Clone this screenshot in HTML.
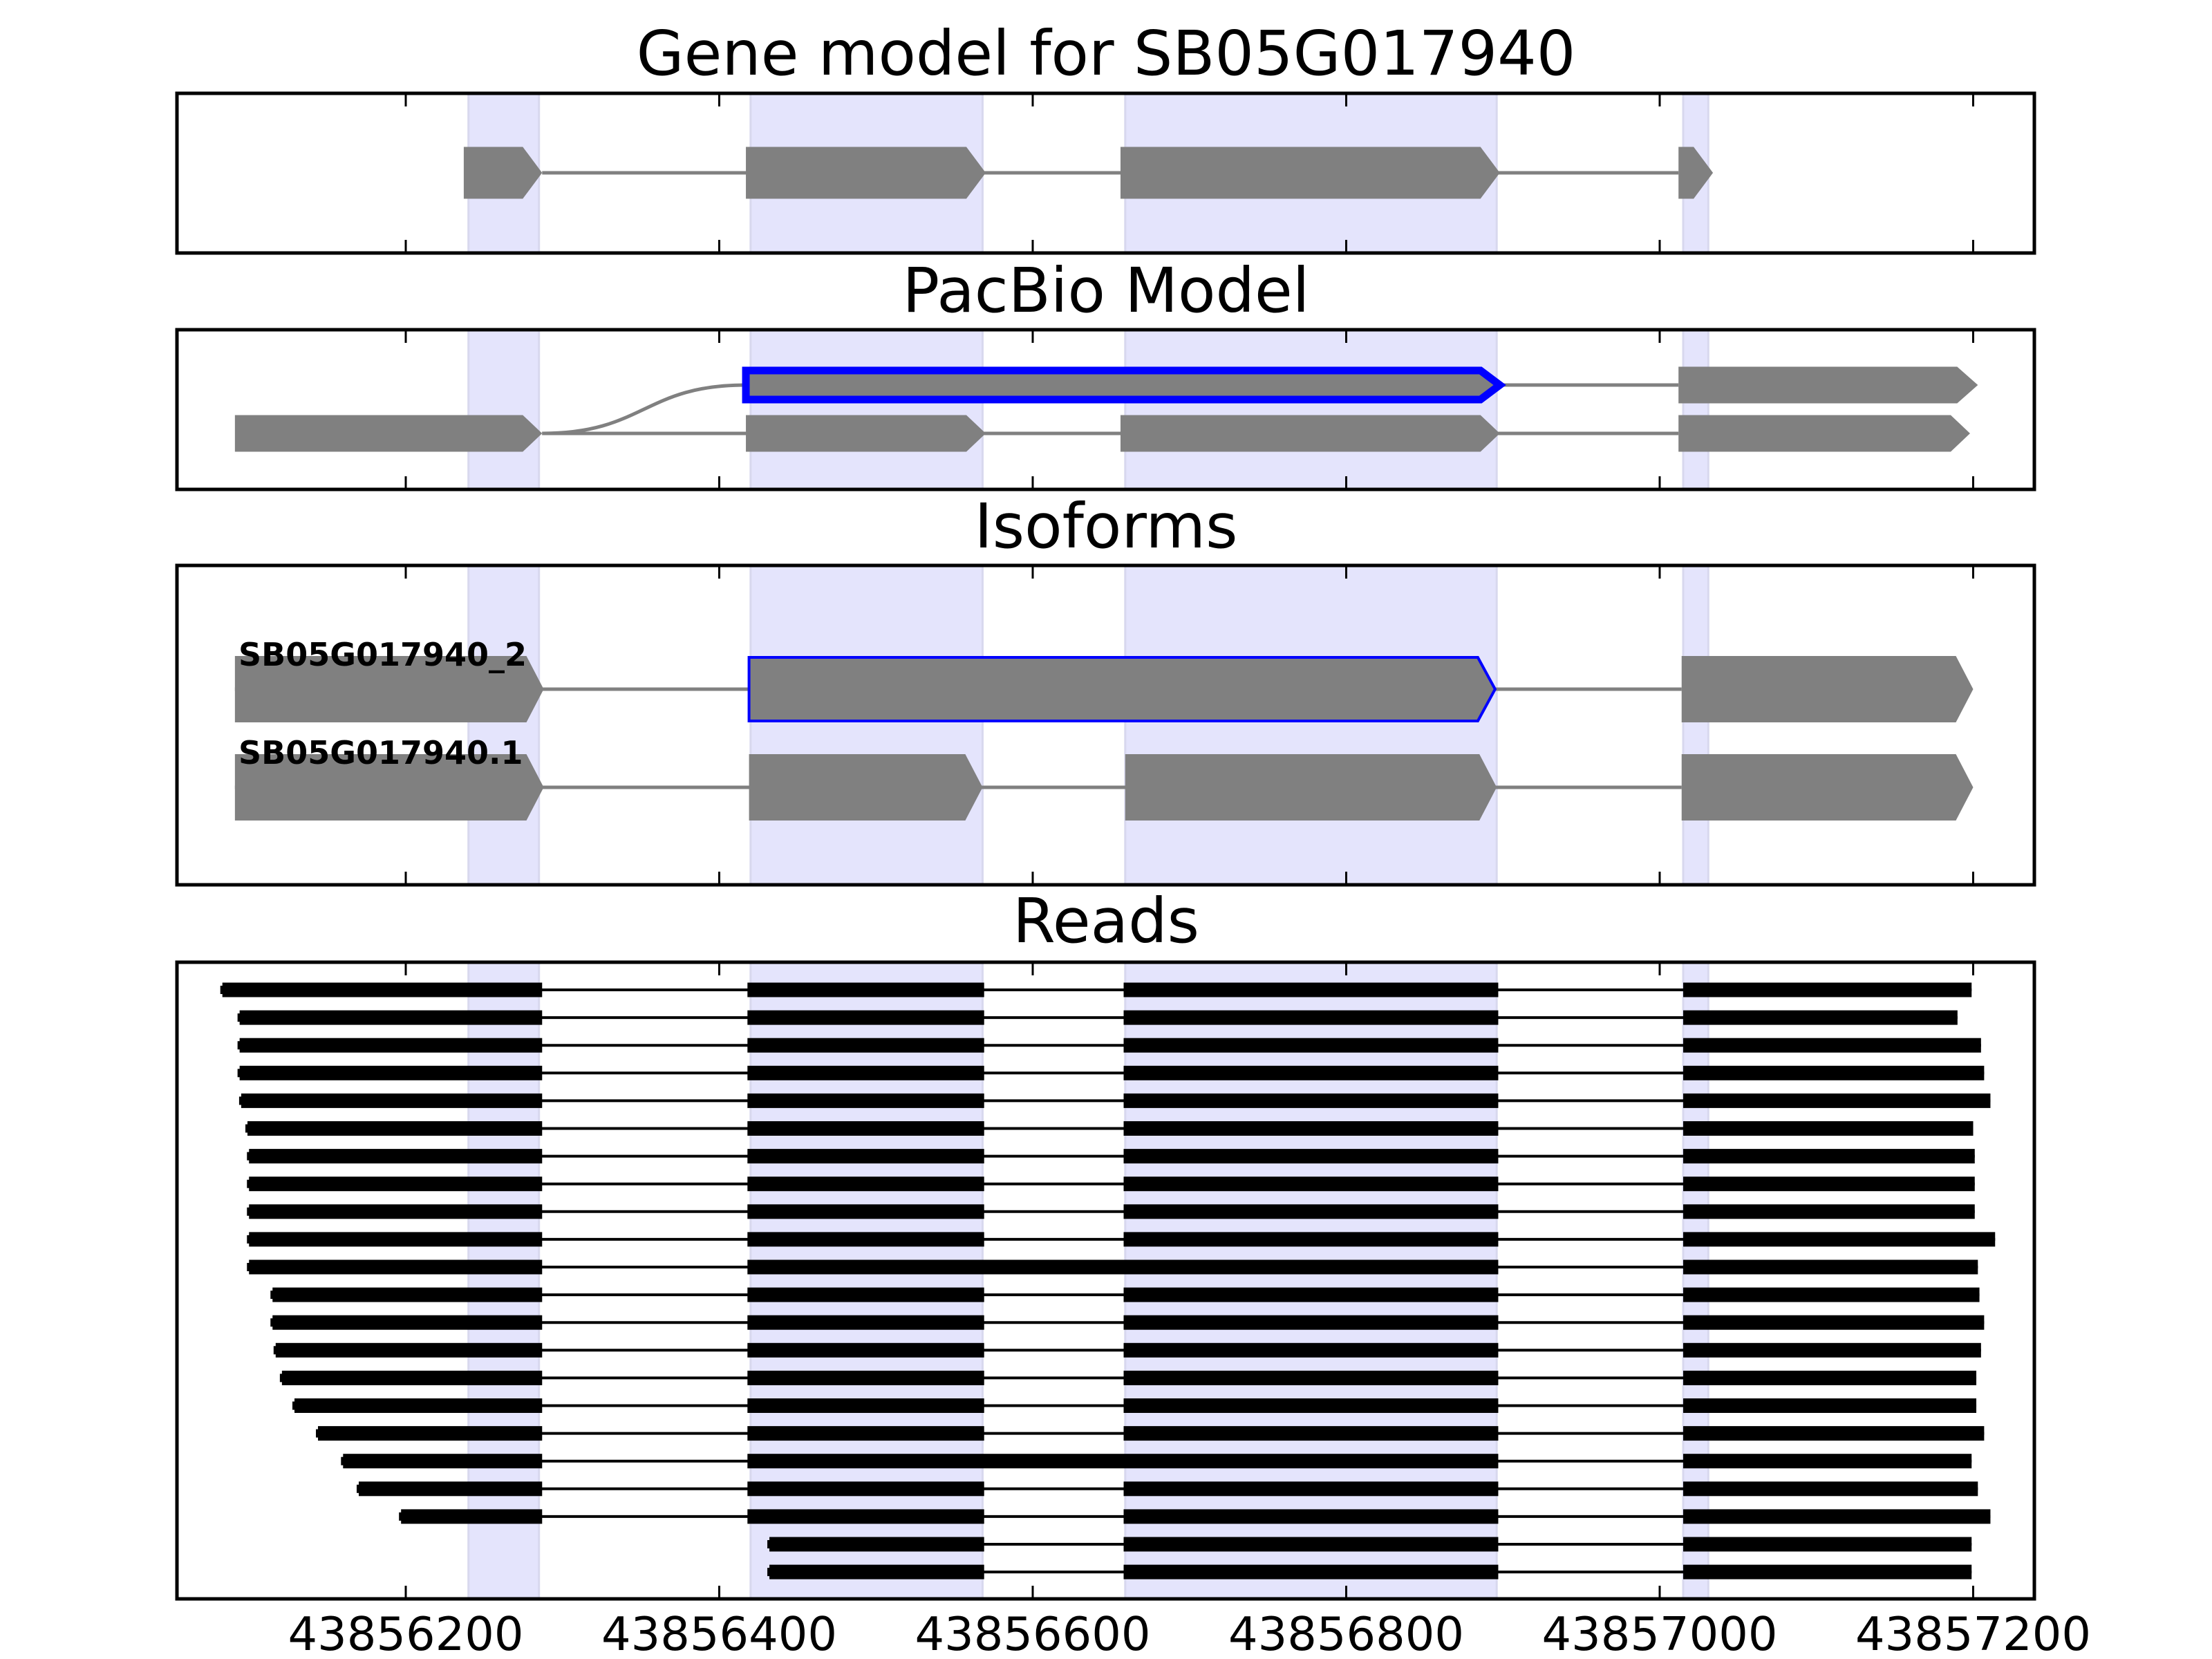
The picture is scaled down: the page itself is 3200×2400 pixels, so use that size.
<!DOCTYPE html>
<html><head><meta charset="utf-8"><style>html,body{margin:0;padding:0;background:#fff}svg{display:block}text{font-family:"DejaVu Sans","Liberation Sans",sans-serif}</style></head>
<body>
<svg id="fig" width="3200" height="2400" viewBox="0 0 3200 2400" xmlns="http://www.w3.org/2000/svg"></svg>
<script>
// ---- data ----
const ticks = [43856200, 43856400, 43856600, 43856800, 43857000, 43857200];
const tickLabels = ["43856200","43856400","43856600","43856800","43857000","43857200"];
const shadeStarts = [43856240, 43856420, 43856659, 43857015];
const shadeEnds = [43856285, 43856568, 43856896, 43857031];
// gene model exons
const geneStarts = [43856237, 43856417, 43856656, 43857012];
const geneEnds = [43856287, 43856570, 43856898, 43857034];
// PacBio rows
const pb1Starts = [43856417, 43857012];
const pb1Ends = [43856898, 43857203];
const pb2Starts = [43856091, 43856417, 43856656, 43857012];
const pb2Ends = [43856287, 43856570, 43856898, 43857198];
// isoforms
const iso1Starts = [43856091, 43856419, 43857014];
const iso1Ends = [43856288, 43856895, 43857200];
const iso2Starts = [43856091, 43856419, 43856659, 43857014];
const iso2Ends = [43856288, 43856568, 43856896, 43857200];
const isoNames = ["SB05G017940_2", "SB05G017940.1"];
// reads
const readStarts = [43856083,43856094,43856094,43856094,43856095,43856099,43856100,43856100,43856100,43856100,43856100,43856115,43856115,43856117,43856121,43856129,43856144,43856160,43856170,43856197,43856432,43856432];
const readEnds = [43857199,43857190,43857205,43857207,43857211,43857200,43857201,43857201,43857201,43857214,43857203,43857204,43857207,43857205,43857202,43857202,43857207,43857199,43857203,43857211,43857199,43857199];
const retainedIntron = [false,false,false,false,false,false,false,false,false,false,true,false,false,false,false,false,false,true,false,false,false,false];
const readExonStarts = [43856418, 43856658, 43857015];
const readExonEnds = [43856287, 43856569, 43856897];

// ---- layout ----
const NS = "http://www.w3.org/2000/svg";
const svg = document.getElementById('fig');
const L = 256, R = 2943;
const x = v => 587 + (v - 43856200) * 2.2675;
const panels = [
  {name:'gene-model-panel', title:'Gene model for SB05G017940', top:135, bottom:366, ty:108},
  {name:'pacbio-panel', title:'PacBio Model', top:477, bottom:708, ty:451},
  {name:'isoforms-panel', title:'Isoforms', top:818, bottom:1280, ty:792},
  {name:'reads-panel', title:'Reads', top:1392, bottom:2313, ty:1363}
];
function mk(tag, attrs, parent) {
  const e = document.createElementNS(NS, tag);
  for (const k in attrs) e.setAttribute(k, attrs[k]);
  (parent || svg).appendChild(e);
  return e;
}
function exon(g, s, e, cy, h, tip, fill, stroke, sw) {
  const x0 = x(s), x1 = x(e);
  const n = Math.max(x0, x1 - tip);
  const pts = `${x0},${cy-h/2} ${n},${cy-h/2} ${x1},${cy} ${n},${cy+h/2} ${x0},${cy+h/2}`;
  const p = mk('polygon', {points: pts, fill: fill, stroke: stroke || 'none', 'stroke-width': sw || 0, 'stroke-linejoin':'miter'}, g);
  
  
  return p;
}
function line(g, x0, x1, y, w, c) {
  const l = mk('line', {x1: x0, x2: x1, y1: y, y2: y, stroke: c, 'stroke-width': w}, g);
  
  
}
panels.forEach((p, pi) => {
  const g = mk('g', {});
  
  
  for (let i = 0; i < shadeStarts.length; i++) {
    const r = mk('rect', {x: x(shadeStarts[i]), y: p.top, width: x(shadeEnds[i]) - x(shadeStarts[i]), height: p.bottom - p.top, fill: '#e4e4fc', stroke: '#d8d8ee', 'stroke-width': 3}, g);
    
    
  }
  p.g = g;
  const t = mk('text', {x: 1600, y: p.ty, 'text-anchor': 'middle', 'font-size': 89, fill: '#000'});
  t.textContent = p.title;
  
  
});
// panel 1
{
  const g = panels[0].g, cy = 250;
  line(g, x(geneEnds[0]), x(geneStarts[geneStarts.length-1]), cy, 5, '#808080');
  for (let i = 0; i < geneStarts.length; i++) exon(g, geneStarts[i], geneEnds[i], cy, 75, 28, '#808080');
}
// panel 2
{
  const g = panels[1].g, y1 = 557, y2 = 627;
  line(g, x(pb2Ends[0]), x(pb2Starts[3]), y2, 5, '#808080');
  line(g, x(pb1Ends[0]), x(pb1Starts[1]), y1, 5, '#808080');
  const a = x(pb2Ends[0]), b = x(pb1Starts[0]), m = (a + b) / 2;
  const c = mk('path', {d: `M${a},${y2} C${m},${y2} ${m},${y1} ${b},${y1}`, fill: 'none', stroke: '#808080', 'stroke-width': 5}, g);
  
  
  exon(g, pb1Starts[0], pb1Ends[0], y1, 42, 28, '#808080', '#0000ff', 11);
  exon(g, pb1Starts[1], pb1Ends[1], y1, 53, 30, '#808080');
  for (let i = 0; i < pb2Starts.length; i++) exon(g, pb2Starts[i], pb2Ends[i], y2, 53, 28, '#808080');
}
// panel 3
{
  const g = panels[2].g, ys = [997, 1139], sets = [[iso1Starts, iso1Ends], [iso2Starts, iso2Ends]];
  sets.forEach((s, r) => {
    line(g, x(s[0][0]), x(s[0][s[0].length-1]), ys[r], 5, '#808080');
    for (let i = 0; i < s[0].length; i++) {
      if (r === 0 && i === 1) exon(g, s[0][i], s[1][i], ys[r], 92, 25, '#808080', '#0000ff', 4);
      else exon(g, s[0][i], s[1][i], ys[r], 96, 25, '#808080');
    }
    const t = mk('text', {x: 345, y: ys[r] - 34, 'font-size': 46, 'font-weight': 'bold', fill: '#000'}, g);
    t.textContent = isoNames[r];
    
    
  });
}
// panel 4
{
  const g = panels[3].g;
  for (let r = 0; r < readStarts.length; r++) {
    const y = 1432 + r * 40.1;
    const s = readStarts[r], e = readEnds[r];
    line(g, x(s), x(e), y, 4, '#000');
    const segS = [s].concat(readExonStarts.filter(v => v > s));
    const segE = readExonEnds.filter(v => v > s).concat([e]);
    for (let i = 0; i < segS.length; i++) {
      let a = segS[i], b = segE[i];
      if (retainedIntron[r] && a === readExonStarts[0]) { b = segE[i+1]; i++; }
      const rc = mk('rect', {x: x(a), y: y - 10.5, width: x(b) - x(a), height: 21, fill: '#000'}, g);
      
      
    }
    const cap = mk('rect', {x: x(s) - 3, y: y - 6, width: 4, height: 12, fill: '#000'}, g);
    
    
  }
}
// frames and ticks
panels.forEach(p => {
  ticks.forEach(v => {
    const t1 = mk('line', {x1: x(v), x2: x(v), y1: p.top, y2: p.top + 19, stroke: '#000', 'stroke-width': 3});
    
    
    const t2 = mk('line', {x1: x(v), x2: x(v), y1: p.bottom, y2: p.bottom - 19, stroke: '#000', 'stroke-width': 3});
    
    
  });
  const f = mk('rect', {x: L, y: p.top, width: R - L, height: p.bottom - p.top, fill: 'none', stroke: '#000', 'stroke-width': 5});
  
  
});
ticks.forEach((v, i) => {
  const t = mk('text', {x: x(v), y: 2387, 'text-anchor': 'middle', 'font-size': 67, fill: '#000'});
  t.textContent = tickLabels[i];
  
  
});
</script>
</body></html>
